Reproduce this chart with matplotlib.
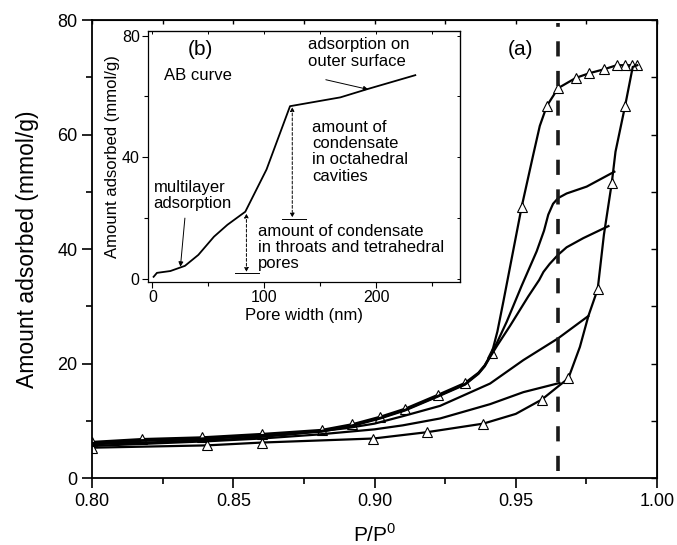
import numpy as np
import matplotlib.pyplot as plt
from matplotlib.ticker import MultipleLocator

plt.rcParams['font.family'] = ['Liberation Sans', 'DejaVu Sans']
plt.rcParams['mathtext.fontset'] = 'custom'
plt.rcParams['mathtext.rm'] = 'Liberation Sans'

# (a) isotherm: desorption branch from the top plateau
des_x = [0.993, 0.991, 0.9887, 0.9857, 0.9813, 0.976, 0.9713, 0.965, 0.961, 0.9585, 0.9562,
         0.9521, 0.9456, 0.9435, 0.9415, 0.939, 0.9368, 0.932, 0.9223, 0.9108, 0.902, 0.8922,
         0.8813, 0.8603, 0.8388, 0.8176, 0.80]
des_y = [72.1, 72.1, 72.1, 72.1, 71.4, 70.7, 69.9, 68.1, 65.0, 61.5, 56.5,
         47.4, 30.8, 25.6, 21.8, 19.7, 18.4, 16.6, 14.5, 12.1, 10.7, 9.4,
         8.4, 7.7, 7.1, 6.8, 6.3]
des_marks = [0, 1, 2, 3, 4, 5, 6, 7, 8, 11, 14, 17, 18, 19, 20, 21, 22, 23, 24, 25, 26]

# adsorption branch
ads_x = [0.80, 0.8406, 0.8603, 0.8996, 0.9185, 0.9385, 0.950, 0.9592, 0.965, 0.9686,
         0.9727, 0.9757, 0.979, 0.9812, 0.984, 0.9853, 0.9887, 0.9914, 0.993]
ads_y = [5.3, 5.7, 6.2, 6.9, 8.0, 9.5, 11.2, 13.7, 16.0, 17.4,
         22.9, 28.3, 33.0, 42.5, 51.6, 57.0, 65.0, 71.8, 72.1]
ads_marks = [0, 1, 2, 3, 4, 5, 7, 9, 12, 14, 16]

# scanning curves
scan1_x = [0.9849, 0.9751, 0.968, 0.965, 0.9632, 0.9615, 0.960, 0.9574, 0.9521, 0.9468,
           0.9435, 0.941, 0.939, 0.9368, 0.932, 0.9223, 0.9108, 0.902, 0.8922, 0.8813,
           0.8603, 0.8388, 0.8176, 0.80]
scan1_y = [53.5, 50.9, 49.7, 48.9, 47.9, 46.0, 43.2, 39.6, 33.6, 27.3,
           23.8, 21.4, 19.6, 18.3, 16.4, 14.3, 11.9, 10.5, 9.2, 8.2,
           7.5, 6.9, 6.6, 6.1]
scan2_x = [0.9828, 0.9739, 0.968, 0.965, 0.962, 0.9598, 0.9583, 0.9544, 0.948, 0.9435,
           0.941, 0.939, 0.9368, 0.932, 0.9223, 0.9108, 0.902, 0.8922, 0.8813, 0.8603,
           0.8388, 0.8176, 0.80]
scan2_y = [44.0, 41.9, 40.3, 39.0, 37.4, 36.0, 34.6, 31.7, 26.6, 23.2,
           21.2, 19.5, 18.2, 16.3, 14.2, 11.8, 10.4, 9.1, 8.1, 7.4,
           6.8, 6.5, 6.0]
scan3_x = [0.9757, 0.965, 0.9527, 0.9409, 0.9232, 0.91, 0.90, 0.89, 0.87, 0.85, 0.825, 0.80]
scan3_y = [28.3, 24.4, 20.6, 16.5, 12.6, 10.8, 9.5, 8.7, 7.6, 6.8, 6.3, 5.9]
scan4_x = [0.9655, 0.9527, 0.9409, 0.9232, 0.91, 0.90, 0.88, 0.86, 0.84, 0.82, 0.80]
scan4_y = [16.6, 15.0, 12.9, 10.4, 9.2, 8.5, 7.6, 6.9, 6.4, 6.0, 5.6]

dash_x = 0.965
dash_span = [1.2, 79.5]

# (b) AB curve
ab_x = [1, 4, 16, 29, 41, 55, 67, 83, 102, 123, 168, 192, 235]
ab_y = [0.7, 2.0, 2.6, 4.3, 7.9, 13.9, 17.8, 22.1, 36.0, 56.8, 59.7, 62.4, 67.0]

fig = plt.figure(figsize=(6.77, 5.45), dpi=100)
ax = fig.add_axes([0.1359, 0.1229, 0.8346, 0.8404])

lw = 1.6
tri = dict(marker='^', markersize=7, markerfacecolor='white',
           markeredgecolor='black', markeredgewidth=0.8)
ax.plot(des_x, des_y, color='black', lw=lw, markevery=des_marks, **tri)
ax.plot(ads_x, ads_y, color='black', lw=lw, markevery=ads_marks, **tri)
for sx, sy in [(scan1_x, scan1_y), (scan2_x, scan2_y), (scan3_x, scan3_y), (scan4_x, scan4_y)]:
    ax.plot(sx, sy, color='black', lw=lw)
ax.plot([dash_x, dash_x], dash_span, color='#1a1a1a', lw=2.6, dashes=(4.2, 4.0))

ax.set_xlim(0.80, 1.00)
ax.set_ylim(0, 80)
ax.xaxis.set_major_locator(MultipleLocator(0.05))
ax.xaxis.set_minor_locator(MultipleLocator(0.025))
ax.yaxis.set_major_locator(MultipleLocator(20))
ax.yaxis.set_minor_locator(MultipleLocator(10))
ax.xaxis.set_major_formatter(plt.FormatStrFormatter('%.2f'))
ax.tick_params(which='both', direction='out', top=False, right=False, labelsize=13, width=1.2)
ax.tick_params(which='major', length=7)
ax.tick_params(which='minor', length=4)
for s in ax.spines.values():
    s.set_linewidth(1.3)
# inward ticks on top and right
sec = ax.secondary_xaxis('top')
sec.xaxis.set_major_locator(MultipleLocator(0.025))
sec.tick_params(direction='in', length=3, width=1.0, labeltop=False)
secy = ax.secondary_yaxis('right')
secy.yaxis.set_major_locator(MultipleLocator(10))
secy.tick_params(direction='in', length=4, width=1.0, labelright=False)

ax.set_xlabel(r'P/P$^{\mathregular{0}}$', fontsize=15, labelpad=10)
ax.set_ylabel('Amount adsorbed (mmol/g)', fontsize=16.5, labelpad=13)
ax.text(0.9515, 74.8, '(a)', fontsize=15, ha='center', va='center')

# inset
ins = fig.add_axes([0.2186, 0.4826, 0.4609, 0.4604])
ins.plot(ab_x, ab_y, color='black', lw=1.3)
ins.set_xlim(-4, 275)
ins.set_ylim(-1, 81.5)
ins.xaxis.set_major_locator(MultipleLocator(100))
ins.xaxis.set_minor_locator(MultipleLocator(50))
ins.yaxis.set_major_locator(MultipleLocator(40))
ins.yaxis.set_minor_locator(MultipleLocator(20))
ins.tick_params(which='both', direction='out', labelsize=11.5, width=0.8, pad=2)
ins.tick_params(which='major', length=4)
ins.tick_params(which='minor', length=3)
for s in ins.spines.values():
    s.set_linewidth(0.9)
isx = ins.secondary_xaxis('top')
isx.xaxis.set_major_locator(MultipleLocator(50))
isx.tick_params(direction='in', length=2.5, width=0.7, labeltop=False)
isy = ins.secondary_yaxis('right')
isy.yaxis.set_major_locator(MultipleLocator(20))
isy.tick_params(direction='in', length=2.5, width=0.7, labelright=False)
ins.set_xlabel('Pore width (nm)', fontsize=12, labelpad=2)
ins.set_ylabel('Amount adsorbed (mmol/g)', fontsize=12, labelpad=1)

fs = 12
ins.text(43, 75.6, '(b)', fontsize=15, ha='center', va='center')
ins.text(10, 67, 'AB curve', fontsize=fs, ha='left', va='center')
ins.text(139, 74.3, 'adsorption on\nouter surface', fontsize=fs, ha='left', va='center', linespacing=1.1)
ins.text(143, 41.8, 'amount of\ncondensate\nin octahedral\ncavities', fontsize=fs,
         ha='left', va='center', linespacing=1.1)
ins.text(1, 27.4, 'multilayer\nadsorption', fontsize=fs, ha='left', va='center', linespacing=1.1)
ins.text(94, 10.4, 'amount of condensate\nin throats and tetrahedral\npores', fontsize=fs,
         ha='left', va='center', linespacing=1.1)

arr = dict(arrowstyle='-|>', lw=0.7, color='black', mutation_scale=7, shrinkA=0, shrinkB=0)
ins.annotate('', xy=(25, 4), xytext=(29, 20), arrowprops=arr)
ins.annotate('', xy=(193, 62.3), xytext=(155, 65.5), arrowprops=arr)
darr = dict(arrowstyle='<|-|>', lw=0.7, color='black', linestyle=(0, (3, 2)),
            mutation_scale=6, shrinkA=0, shrinkB=0)
ins.annotate('', xy=(84, 2.3), xytext=(84, 21.5), arrowprops=darr)
ins.annotate('', xy=(125, 20.2), xytext=(125, 56.5), arrowprops=darr)
ins.plot([74, 95], [2.0, 2.0], color='black', lw=0.7)
ins.plot([116, 137], [19.8, 19.8], color='black', lw=0.7)

fig.savefig('out.png', dpi=100)
